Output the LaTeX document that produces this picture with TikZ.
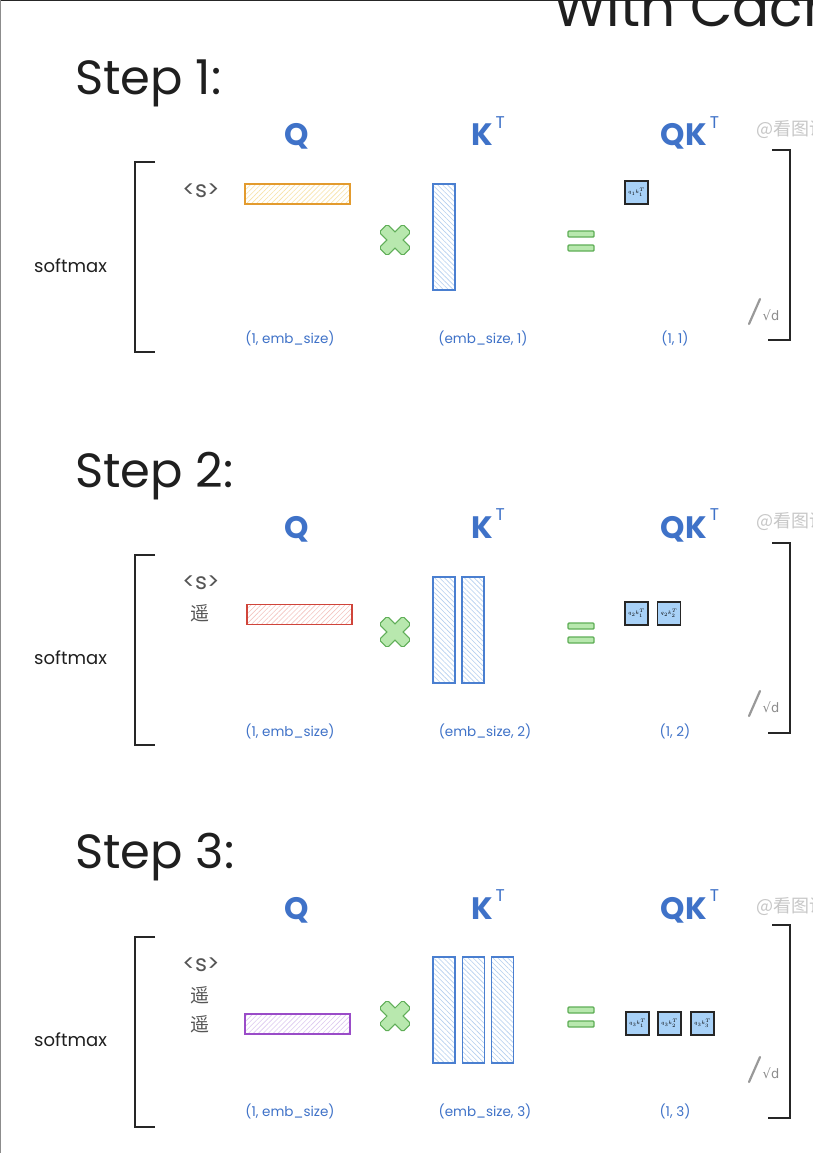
\documentclass[tikz,border=0pt]{standalone}
\usepackage{fontspec}
\setmainfont{Poppins}
\newfontfamily\cjk{Noto Sans CJK SC}
\newfontfamily\dvs{DejaVu Sans}
\usetikzlibrary{patterns.meta}
\definecolor{hblue}{HTML}{3F72C8}
\definecolor{kblue}{HTML}{4A7FD0}
\definecolor{khatch}{HTML}{B4CFEF}
\definecolor{ostroke}{HTML}{E39B2E}
\definecolor{ohatch}{HTML}{F7E2A6}
\definecolor{rstroke}{HTML}{D0443A}
\definecolor{rhatch}{HTML}{F3C4C0}
\definecolor{pstroke}{HTML}{9A4CC8}
\definecolor{phatch}{HTML}{DCC8F0}
\definecolor{gstroke}{HTML}{5FAE57}
\definecolor{gfill}{HTML}{B8E8AE}
\definecolor{qkfill}{HTML}{A8D1F7}
\definecolor{toktext}{HTML}{555555}
\newcommand{\supT}{\raisebox{0.55em}{\fontsize{17}{17}\selectfont\mdseries\,T}}
\begin{document}
\begin{tikzpicture}[x=1pt,y=-1pt,
  steptitle/.style={anchor=base west,font=\fontsize{48}{48}\selectfont,text=black!88,inner sep=0},
  head/.style={anchor=base,font=\fontsize{31}{31}\selectfont\bfseries,text=hblue,inner sep=0},
  wm/.style={anchor=west,font=\cjk\fontsize{18}{18}\selectfont,text=black!22,inner sep=0},
  bracket/.style={draw=black!85,line width=1.3pt},
  smx/.style={font=\fontsize{18}{18}\selectfont,text=black!88,inner sep=0},
  tok/.style={font=\fontsize{23}{23}\selectfont,text=toktext,inner sep=0},
  cjktok/.style={font=\cjk\fontsize{19}{19}\selectfont,text=toktext,inner sep=0},
  qbar/.style={minimum width=105pt,minimum height=20pt,inner sep=0,line width=1.2pt},
  kcol/.style={minimum width=22pt,minimum height=106pt,inner sep=0,line width=1.2pt,draw=kblue,
    pattern={Lines[angle=-45,distance=3.5pt,line width=0.6pt]},pattern color=khatch},
  xbar/.style={line width=2.4pt,draw=gstroke,rounded corners=1.5pt},
  xfill/.style={fill=gfill,rounded corners=1.5pt},
  eqbar/.style={draw=gstroke,fill=gfill,line width=1.4pt,rounded corners=1pt},
  qkbox/.style={minimum width=23pt,minimum height=23pt,inner sep=0,draw=black!85,line width=1.2pt,fill=qkfill,
    font=\fontsize{5.5}{5.5}\selectfont},
  dim/.style={font=\fontsize{13.5}{13.5}\selectfont,text=hblue,inner sep=0},
  sqd/.style={font=\dvs\fontsize{13}{13}\selectfont,text=black!45,inner sep=0},
  sqline/.style={draw=black!40,line width=2.2pt,line cap=round}
]
\useasboundingbox (0,0) rectangle (813,1153);
\clip (0,0) rectangle (813,1153);
\fill[white] (0,0) rectangle (813,1153);
\draw[black!85,line width=3pt] (0,0) -- (813,0);
\draw[black!45,line width=1.5pt] (0,0) -- (0,1153);
\node[anchor=base west,font=\fontsize{55}{55}\selectfont,text=black!88,inner sep=0] (title) at (553,27) {With Cache};

% ---------- Step 1 ----------
\begin{scope}
\node[steptitle] (t1) at (75,95) {Step 1:};
\node[head] (q1) at (297,146) {Q};
\node[head] (k1) at (488,146) {K\supT};
\node[head] (qk1) at (690,146) {QK\supT};
\node[wm] (w1) at (756,130) {@看图说};
\draw[bracket] (155,162) -- (135,162) -- (135,352) -- (155,352);
\node[smx,anchor=west] (sm1) at (34,266) {softmax};
\node[tok] (s1) at (201,191) {<s>};
\node[qbar,draw=ostroke,pattern={Lines[angle=45,distance=3.5pt,line width=0.6pt]},pattern color=ohatch] (b1) at (297.5,194) {};
\draw[xbar,rotate around={45:(395,240)}] (379,235) rectangle (411,245);
\draw[xbar,rotate around={-45:(395,240)}] (379,235) rectangle (411,245);
\fill[xfill,rotate around={45:(395,240)}] (379,235) rectangle (411,245);
\fill[xfill,rotate around={-45:(395,240)}] (379,235) rectangle (411,245);
\node[kcol] (k1a) at (444,237) {};
\draw[eqbar] (568,231) rectangle (594,237);
\draw[eqbar] (568,245) rectangle (594,251);
\node[qkbox] (r1a) at (636.5,192.5) {$q_1k_1^T$};
\draw[bracket] (772,150) -- (790,150) -- (790,340) -- (768,340);
\draw[sqline] (749,324) -- (760,299);
\node[sqd] (d1) at (771,315) {√d};
\node[dim] (l1a) at (290,338) {(1, emb\_size)};
\node[dim] (l1b) at (483,338) {(emb\_size, 1)};
\node[dim] (l1c) at (675,338) {(1, 1)};
\end{scope}

% ---------- Step 2 ----------
\begin{scope}[yshift=-392pt]
\node[steptitle] (t2) at (75,95) {Step 2:};
\node[head] (q2) at (297,146) {Q};
\node[head] (k2) at (488,146) {K\supT};
\node[head] (qk2) at (690,146) {QK\supT};
\node[wm] (w2) at (756,130) {@看图说};
\draw[bracket] (155,163) -- (135,163) -- (135,353) -- (155,353);
\node[smx,anchor=west] (sm2) at (34,266) {softmax};
\node[tok] (s2) at (201,191) {<s>};
\node[cjktok] (s2b) at (200,221) {遥};
\node[qbar,draw=rstroke,pattern={Lines[angle=45,distance=3.5pt,line width=0.6pt]},pattern color=rhatch] (b2) at (299.5,222.5) {};
\draw[xbar,rotate around={45:(395,240)}] (379,235) rectangle (411,245);
\draw[xbar,rotate around={-45:(395,240)}] (379,235) rectangle (411,245);
\fill[xfill,rotate around={45:(395,240)}] (379,235) rectangle (411,245);
\fill[xfill,rotate around={-45:(395,240)}] (379,235) rectangle (411,245);
\node[kcol] (k2a) at (444,238) {};
\node[kcol] (k2b) at (473,238) {};
\draw[eqbar] (568,231) rectangle (594,237);
\draw[eqbar] (568,245) rectangle (594,251);
\node[qkbox] (r2a) at (636.5,221.5) {$q_2k_1^T$};
\node[qkbox] (r2b) at (669,221.5) {$q_2k_2^T$};
\draw[bracket] (772,151) -- (790,151) -- (790,341) -- (768,341);
\draw[sqline] (749,324) -- (760,299);
\node[sqd] (d2) at (771,315) {√d};
\node[dim] (l2a) at (290,339) {(1, emb\_size)};
\node[dim] (l2b) at (485,339) {(emb\_size, 2)};
\node[dim] (l2c) at (675,339) {(1, 2)};
\end{scope}

% ---------- Step 3 ----------
\begin{scope}[yshift=-773pt]
\node[steptitle] (t3) at (75,95) {Step 3:};
\node[head] (q3) at (297,146) {Q};
\node[head] (k3) at (488,146) {K\supT};
\node[head] (qk3) at (690,146) {QK\supT};
\node[wm] (w3) at (756,133) {@看图说};
\draw[bracket] (155,164) -- (135,164) -- (135,354) -- (155,354);
\node[smx,anchor=west] (sm3) at (34,267) {softmax};
\node[tok] (s3) at (201,192) {<s>};
\node[cjktok] (s3b) at (200,222) {遥};
\node[cjktok] (s3c) at (200,251) {遥};
\node[qbar,draw=pstroke,pattern={Lines[angle=45,distance=3.5pt,line width=0.6pt]},pattern color=phatch] (b3) at (297.5,251) {};
\draw[xbar,rotate around={45:(395,243)}] (379,238) rectangle (411,248);
\draw[xbar,rotate around={-45:(395,243)}] (379,238) rectangle (411,248);
\fill[xfill,rotate around={45:(395,243)}] (379,238) rectangle (411,248);
\fill[xfill,rotate around={-45:(395,243)}] (379,238) rectangle (411,248);
\node[kcol] (k3a) at (444,237) {};
\node[kcol] (k3b) at (473.5,237) {};
\node[kcol] (k3c) at (502.5,237) {};
\draw[eqbar] (568,234) rectangle (594,240);
\draw[eqbar] (568,248) rectangle (594,254);
\node[qkbox] (r3a) at (637.5,250.5) {$q_3k_1^T$};
\node[qkbox] (r3b) at (669.5,250.5) {$q_3k_2^T$};
\node[qkbox] (r3c) at (702.5,250.5) {$q_3k_3^T$};
\draw[bracket] (772,152) -- (790,152) -- (790,345) -- (768,345);
\draw[sqline] (749,309) -- (760,284);
\node[sqd] (d3) at (771,300) {√d};
\node[dim] (l3a) at (290,338) {(1, emb\_size)};
\node[dim] (l3b) at (485,338) {(emb\_size, 3)};
\node[dim] (l3c) at (675,338) {(1, 3)};
\end{scope}
\end{tikzpicture}
\end{document}
